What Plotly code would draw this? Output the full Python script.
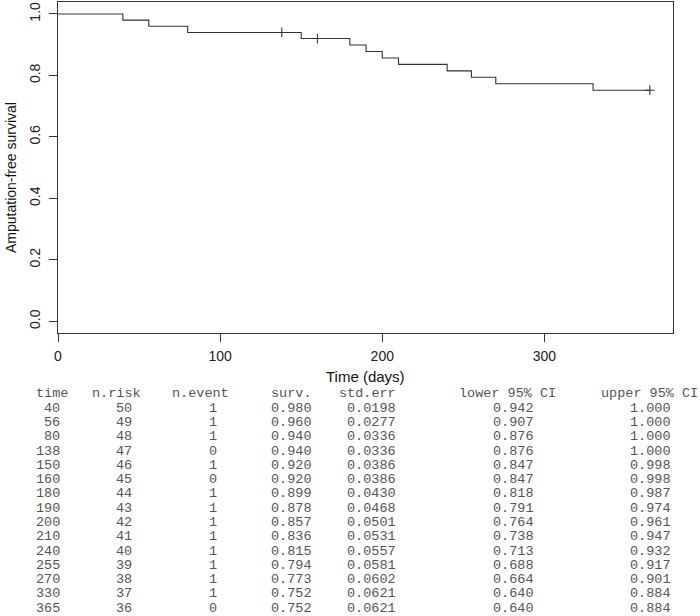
import plotly.graph_objects as go

# ---- data (Kaplan-Meier summary) ----
time = [40, 56, 80, 138, 150, 160, 180, 190, 200, 210, 240, 255, 270, 330, 365]
n_risk = [50, 49, 48, 47, 46, 45, 44, 43, 42, 41, 40, 39, 38, 37, 36]
n_event = [1, 1, 1, 0, 1, 0, 1, 1, 1, 1, 1, 1, 1, 1, 0]
surv = [0.980, 0.960, 0.940, 0.940, 0.920, 0.920, 0.899, 0.878, 0.857, 0.836,
        0.815, 0.794, 0.773, 0.752, 0.752]
std_err = [0.0198, 0.0277, 0.0336, 0.0336, 0.0386, 0.0386, 0.0430, 0.0468,
           0.0501, 0.0531, 0.0557, 0.0581, 0.0602, 0.0621, 0.0621]
lower_ci = [0.942, 0.907, 0.876, 0.876, 0.847, 0.847, 0.818, 0.791, 0.764,
            0.738, 0.713, 0.688, 0.664, 0.640, 0.640]
upper_ci = [1.000, 1.000, 1.000, 1.000, 0.998, 0.998, 0.987, 0.974, 0.961,
            0.947, 0.932, 0.917, 0.901, 0.884, 0.884]
headers = ["time", "n.risk", "n.event", "surv.", "std.err", "lower 95% CI", "upper 95% CI"]
x_ticks = [0, 100, 200, 300]
y_ticks = [0.0, 0.2, 0.4, 0.6, 0.8, 1.0]

# ---- layout geometry (pixels) ----
W, H = 700, 616
L, R, T, B = 58, 27, 2, 283
PW, PH = W - L - R, H - T - B


def px(x):
    return (x - L) / PW


def py(y):
    return (H - B - y) / PH


LINE = "#333333"

# step curve: start at 1.0 at time 0
step_x = [0] + time
step_y = [1.0] + surv

fig = go.Figure()
fig.add_trace(go.Scatter(
    x=step_x, y=step_y, mode="lines", line=dict(shape="hv", color=LINE, width=1.1),
    hoverinfo="skip", showlegend=False))

cx = [t for t, e in zip(time, n_event) if e == 0]
cy = [s for s, e in zip(surv, n_event) if e == 0]
fig.add_trace(go.Scatter(
    x=cx, y=cy, mode="markers",
    marker=dict(symbol="cross-thin", size=7, line=dict(color=LINE, width=1.1)),
    hoverinfo="skip", showlegend=False))

tickfont = dict(family="Liberation Sans, Arial, sans-serif", size=14, color="#222")

fig.update_xaxes(
    range=[0, 379.3], tickvals=x_ticks, ticktext=[str(v) for v in x_ticks],
    ticks="outside", ticklen=8, tickcolor=LINE, tickwidth=1,
    showline=True, linecolor=LINE, linewidth=1, mirror=True,
    showgrid=False, zeroline=False, tickfont=tickfont, ticklabelstandoff=2)
fig.update_yaxes(
    range=[-0.038, 1.039], tickvals=y_ticks, ticktext=[f"{v:.1f}" for v in y_ticks],
    ticks="outside", ticklen=8, tickcolor=LINE, tickwidth=1, tickangle=-90,
    showline=True, linecolor=LINE, linewidth=1, mirror=True,
    showgrid=False, zeroline=False, tickfont=tickfont, ticklabelstandoff=3)

ann = []
# axis titles
ann.append(dict(text="Time (days)", xref="paper", yref="paper", x=px(365), y=py(376),
                xanchor="center", yanchor="middle", showarrow=False,
                font=dict(family="Liberation Sans, Arial, sans-serif", size=15, color="#111")))
ann.append(dict(text="Amputation-free survival", xref="paper", yref="paper", x=px(11), y=py(178),
                xanchor="center", yanchor="middle", textangle=-90, showarrow=False,
                font=dict(family="Liberation Sans, Arial, sans-serif", size=14, color="#111")))

# table
mono = dict(family="Liberation Mono, DejaVu Sans Mono, monospace", size=13.5, color="#555")
hdr_right = [69, 142, 230, 313, 397, 557, 699]
val_right = [61, 133, 218, 313, 397, 535, 672]
cols = [
    [str(v) for v in time],
    [str(v) for v in n_risk],
    [str(v) for v in n_event],
    [f"{v:.3f}" for v in surv],
    [f"{v:.4f}" for v in std_err],
    [f"{v:.3f}" for v in lower_ci],
    [f"{v:.3f}" for v in upper_ci],
]
hdr_y = 394
row0_y = 408.3
row_dy = 14.28
for hx, h in zip(hdr_right, headers):
    ann.append(dict(text=h, xref="paper", yref="paper", x=px(hx), y=py(hdr_y),
                    xanchor="right", yanchor="middle", showarrow=False, font=mono, borderpad=0))
for vx, col in zip(val_right, cols):
    for i, s in enumerate(col):
        ann.append(dict(text=s, xref="paper", yref="paper", x=px(vx), y=py(row0_y + i * row_dy),
                        xanchor="right", yanchor="middle", showarrow=False, font=mono, borderpad=0))

fig.update_layout(
    width=W, height=H, margin=dict(l=L, r=R, t=T, b=B, autoexpand=False),
    paper_bgcolor="white", plot_bgcolor="white", annotations=ann, showlegend=False,
    hovermode=False)

fig.write_html("out.html", config={"displayModeBar": False, "staticPlot": True},
               post_script="document.body.style.margin='0px';document.body.style.overflow='hidden';")
